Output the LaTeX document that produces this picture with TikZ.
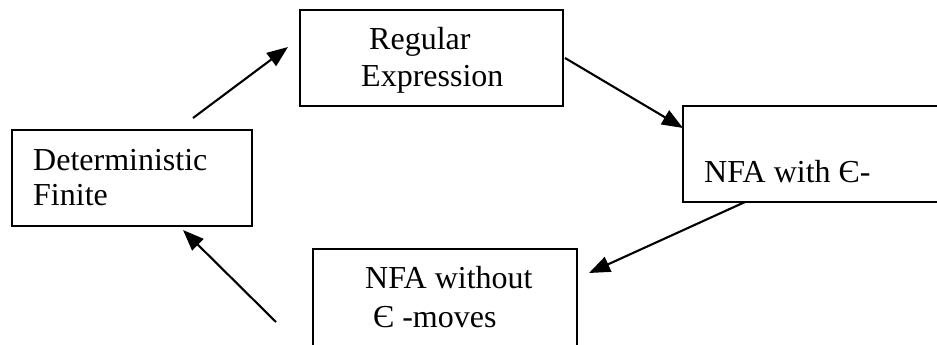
\documentclass[tikz,border=0pt]{standalone}
\usepackage{fontspec}
\setmainfont{Liberation Serif}
\usetikzlibrary{arrows.meta}

\tikzset{
  stagebox/.style={draw, line width=2.2pt, inner sep=0pt, outer sep=0pt, anchor=north west},
  stagetext/.style={anchor=base west, inner sep=0pt, font=\fontsize{32}{38}\selectfont},
  flow/.style={line width=2.1pt, -{Triangle[length=21pt, width=16pt]}}
}

\begin{document}
\begin{tikzpicture}[x=1pt, y=-1pt]
  \useasboundingbox (0,0) rectangle (937,345);
  \clip (0,0) rectangle (937,345);

  % the four stages of the conversion cycle
  \node[stagebox, minimum width=240pt, minimum height=96pt] (dfa) at (12,130) {};
  \node[stagebox, minimum width=263pt, minimum height=96pt] (regex) at (300,10) {};
  \node[stagebox, minimum width=270pt, minimum height=96pt] (enfa) at (683,106) {};
  \node[stagebox, minimum width=264pt, minimum height=120pt] (nfa) at (313,249) {};

  % stage labels
  \node[stagetext] (dfa1) at (33,170) {Deterministic};
  \node[stagetext] (dfa2) at (33,205) {Finite};
  \node[stagetext] (regex1) at (369,50) {Regular};
  \node[stagetext] (regex2) at (361,86) {Expression};
  \node[stagetext] (enfa1) at (704,182) {NFA with Є-};
  \node[stagetext] (nfa1) at (365,288) {NFA without};
  \node[stagetext] (nfa2) at (373,327) {Є -moves};

  % arrow end points
  \coordinate (a1s) at (193,118);
  \coordinate (a1e) at (288,47);
  \coordinate (a2s) at (565,58);
  \coordinate (a2e) at (683,128);
  \coordinate (a3s) at (745,202);
  \coordinate (a3e) at (589,273);
  \coordinate (a4s) at (276,322);
  \coordinate (a4e) at (183,230);

  % conversions
  \draw[flow] (a1s) -- (a1e);
  \draw[flow] (a2s) -- (a2e);
  \draw[flow] (a3s) -- (a3e);
  \draw[flow] (a4s) -- (a4e);
\end{tikzpicture}
\end{document}
